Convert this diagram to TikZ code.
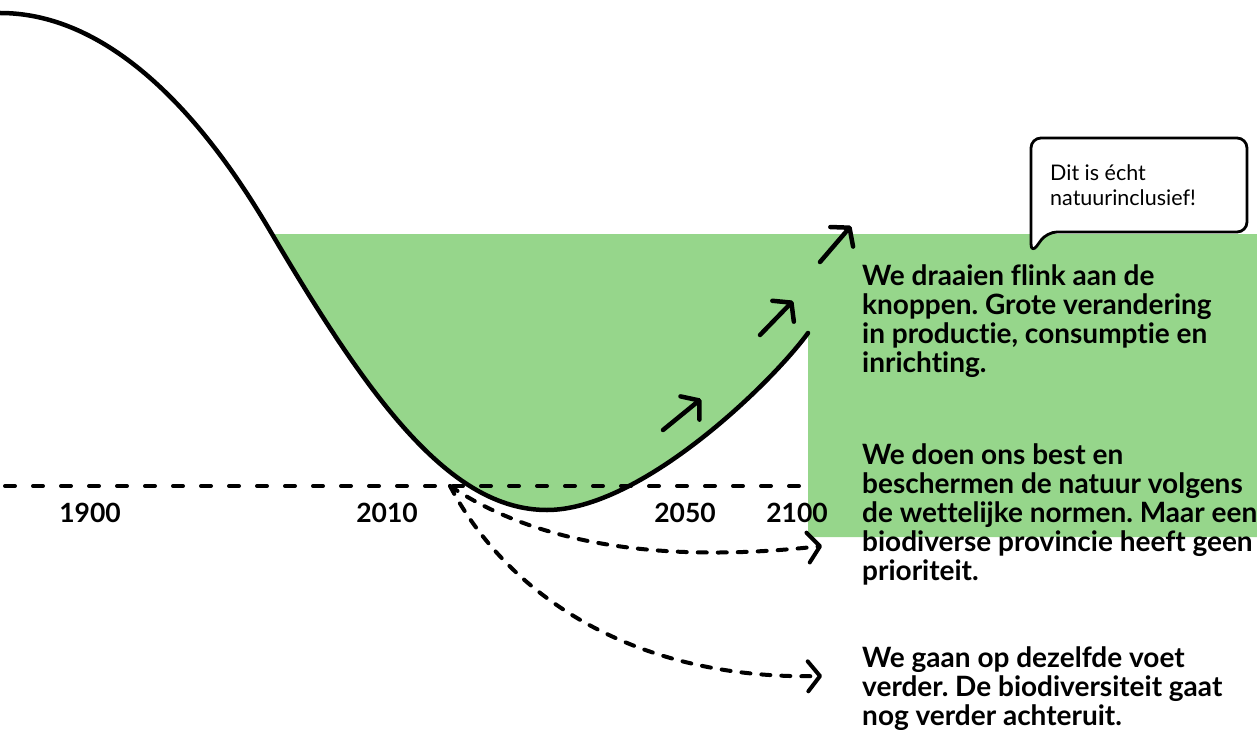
\documentclass[tikz,border=0pt]{standalone}
\usepackage{fontspec}
\setmainfont{Lato}[Ligatures=NoCommon]
\usetikzlibrary{arrows.meta}
\definecolor{natgreen}{RGB}{150,214,139}
\frenchspacing
\tikzset{
  barb/.tip={Straight Barb[length=12pt,width=30pt,line cap=round,line join=round]},
  curveline/.style={line width=4.5pt,line cap=round},
  axisline/.style={line width=4pt,line cap=round,dash pattern=on 10pt off 18pt},
  scen/.style={line width=4pt,line cap=round,dash pattern=on 9pt off 11pt,-barb},
  uparrow/.style={line width=4.5pt,line cap=round,-barb},
  year/.style={font=\bfseries\fontsize{26.5}{29}\selectfont,anchor=base,inner sep=0pt},
  story/.style={font=\bfseries\fontsize{28}{29}\selectfont,align=left,anchor=base west,inner sep=0pt},
  bubbletext/.style={font=\fontsize{21.5}{25}\selectfont,align=left,anchor=base west,inner sep=0pt}
}
\begin{document}
\begin{tikzpicture}[x=1pt,y=-1pt]
\useasboundingbox (0,0) rectangle (1257,730);
% green area
\fill[natgreen] (272,234) -- (1257,234) -- (1257,537) -- (808,537) -- (808,333)
  .. controls (770,385) and (640,510) .. (547,510)
  .. controls (450,510) and (370,400) .. (272,234) -- cycle;
% axis
\coordinate (ax0) at (5,486);
\coordinate (ax1) at (806,486);
\draw[axisline] (ax0) -- (ax1);
% main curve
\coordinate (c0) at (0,13);
\coordinate (c1) at (272,234);
\coordinate (c2) at (547,510);
\coordinate (c3) at (808,333);
\draw[curveline] (c0) .. controls (140,13) and (240,180) .. (c1)
  .. controls (370,400) and (450,510) .. (c2)
  .. controls (640,510) and (770,385) .. (c3);
% scenario arrows
\coordinate (split) at (450,486);
\coordinate (s1) at (822,546);
\coordinate (s2) at (822,676);
\draw[scen] (split) .. controls (530,540) and (650,565) .. (s1);
\draw[scen] (split) .. controls (510,600) and (640,680) .. (s2);
% up arrows
\coordinate (u1a) at (663,430); \coordinate (u1b) at (701,399);
\coordinate (u2a) at (760,335); \coordinate (u2b) at (793,301);
\coordinate (u3a) at (820,262); \coordinate (u3b) at (851,226);
\draw[uparrow] (u1a) -- (u1b);
\draw[uparrow] (u2a) -- (u2b);
\draw[uparrow] (u3a) -- (u3b);
% years
\node[year] (y1900) at (90,522) {1900};
\node[year] (y2010) at (387,522) {2010};
\node[year] (y2050) at (685,522) {2050};
\node[year] (y2100) at (797,522) {2100};
% texts (base anchor = baseline of last line)
\node[story] (t1) at (862,372) {We draaien flink aan de\\knoppen. Grote verandering\\in productie, consumptie en\\inrichting.};
\node[story] (t2) at (862,580) {We doen ons best en\\beschermen de natuur volgens\\de wettelijke normen. Maar een\\biodiverse provincie heeft geen\\prioriteit.};
\node[story] (t3) at (862,725) {We gaan op dezelfde voet\\verder. De biodiversiteit gaat\\nog verder achteruit.};
% speech bubble
\draw[line width=2.8pt,fill=white,rounded corners=10pt,line join=round]
  (1047,232) -- (1247,232) -- (1247,138) -- (1031,138) -- (1031,254) -- cycle;
\node[bubbletext] (bub) at (1050,205) {Dit is écht\\natuurinclusief!};
\end{tikzpicture}
\end{document}
